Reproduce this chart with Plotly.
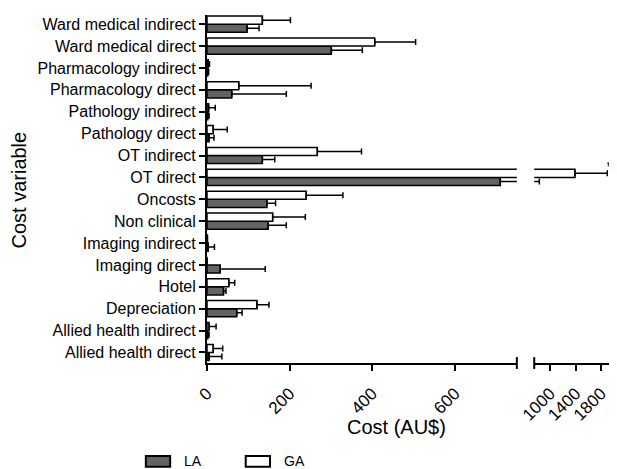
import plotly.graph_objects as go

categories = ["Allied health direct", "Allied health indirect", "Depreciation", "Hotel",
              "Imaging direct", "Imaging indirect", "Non clinical", "Oncosts", "OT direct",
              "OT indirect", "Pathology direct", "Pathology indirect", "Pharmacology direct",
              "Pharmacology indirect", "Ward medical direct", "Ward medical indirect"]

la_values = [5, 2, 72, 40, 32, 3, 148, 145, 710, 134, 5, 2, 60, 2, 301, 97]
la_errors = [31, 3, 13, 6, 109, 15, 44, 21, 120, 30, 12, 3, 132, 2, 75, 29]
ga_values = [15, 5, 121, 53, 0, 1, 159, 240, 1389, 267, 15, 4, 77, 3, 406, 134]
ga_errors = [23, 17, 29, 14, 0, 0, 79, 89, 507, 107, 34, 16, 175, 3, 99, 68]

series_names = ["LA", "GA"]
series_fills = ["#636363", "white"]

left_ticks = [0, 200, 400, 600]
right_ticks = [1000, 1400, 1800]
left_range = [0, 750]
right_range = [750, 1970]

FONT = "Liberation Sans, Arial, Helvetica, sans-serif"
left_dom = [0, 0.765]
right_dom = [0.808, 1]

fig = go.Figure()
n = len(categories)
for xa in ("x", "x2"):
    for name, vals, errs, fill in ((series_names[0], la_values, la_errors, series_fills[0]),
                                   (series_names[1], ga_values, ga_errors, series_fills[1])):
        fig.add_trace(go.Bar(
            y=categories, x=vals, orientation="h", name=name, xaxis=xa, yaxis="y",
            marker=dict(color=fill, line=dict(color="black", width=1.5)),
            error_x=dict(type="data", array=errs, arrayminus=[0] * n, symmetric=False,
                         color="black", thickness=1.5, width=3),
            showlegend=False))

axis_common = dict(showline=True, linecolor="black", linewidth=2, ticks="outside",
                   ticklen=6, tickwidth=2, tickcolor="black", showgrid=False, zeroline=False,
                   tickangle=-45, automargin=False, ticklabelstandoff=6,
                   tickfont=dict(family=FONT, size=17, color="black"))

# manual legend (swatch boxes + labels) below the plot
legend_shapes = []
legend_texts = []
for name, fill, x0 in zip(series_names, series_fills, [-0.151, 0.0956]):
    legend_shapes.append(dict(type="rect", xref="paper", yref="paper", x0=x0, x1=x0 + 0.06,
                              y0=-0.298, y1=-0.267, fillcolor=fill,
                              line=dict(color="black", width=2)))
    legend_texts.append(dict(text=name, xref="paper", yref="paper", x=x0 + 0.09, y=-0.2825,
                             xanchor="left", yanchor="middle", showarrow=False,
                             font=dict(family=FONT, size=14, color="black")))

# page body adds an 8px offset, so the figure is 8px smaller than the window
fig.update_layout(
    width=609, height=461,
    margin=dict(l=199, r=5, t=7, b=106),
    paper_bgcolor="white", plot_bgcolor="white",
    barmode="group", bargap=0.26, bargroupgap=0,
    font=dict(family=FONT, color="black"),
    showlegend=False,
    xaxis=dict(domain=left_dom, range=left_range, tickvals=left_ticks, anchor="y", **axis_common),
    xaxis2=dict(domain=right_dom, range=right_range, tickvals=right_ticks, anchor="y", **axis_common),
    yaxis=dict(categoryorder="array", categoryarray=categories, range=[-0.48, 15.42],
               showline=True, linecolor="black", linewidth=2, ticks="outside", ticklen=6,
               tickwidth=2, tickcolor="black", showgrid=False, zeroline=False, automargin=False,
               tickfont=dict(family=FONT, size=16, color="black"), anchor="x"),
    annotations=[
        dict(text="Cost (AU$)", xref="paper", yref="paper", x=0.468, y=-0.184,
             showarrow=False, font=dict(family=FONT, size=20, color="black"),
             xanchor="center", yanchor="middle"),
        dict(text="Cost variable", xref="paper", yref="paper", x=-0.463, y=0.497,
             showarrow=False, textangle=-90, font=dict(family=FONT, size=20, color="black"),
             xanchor="center", yanchor="middle"),
        dict(text="<b>*</b>", xref="paper", yref="paper", x=0.996, y=0.567,
             xanchor="center", yanchor="middle", showarrow=False, borderpad=0,
             font=dict(family=FONT, size=15, color="black")),
    ] + legend_texts,
    shapes=[
        dict(type="line", xref="paper", yref="paper", x0=left_dom[1], x1=left_dom[1],
             y0=-0.017, y1=0.017, line=dict(color="black", width=2)),
        dict(type="line", xref="paper", yref="paper", x0=right_dom[0], x1=right_dom[0],
             y0=-0.017, y1=0.017, line=dict(color="black", width=2)),
    ] + legend_shapes,
)

fig.write_html("out.html")
